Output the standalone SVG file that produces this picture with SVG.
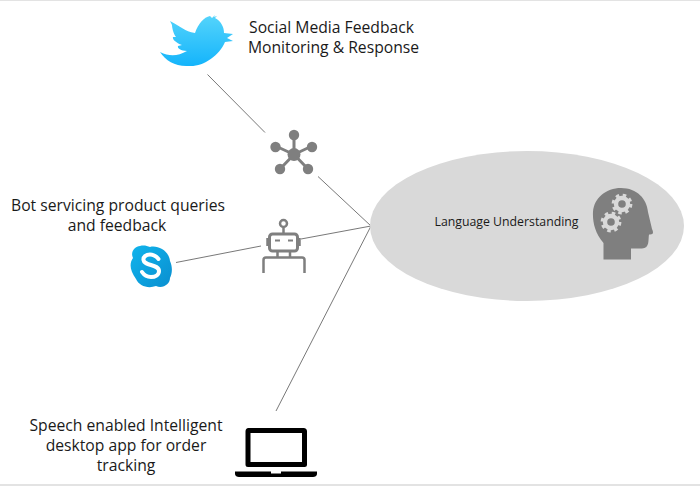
<svg xmlns="http://www.w3.org/2000/svg" width="700" height="486" viewBox="0 0 700 486">
<style>
text{font-family:"Open Sans","Noto Sans","Liberation Sans",sans-serif;font-size:15.700px;fill:#1a1a1a;text-anchor:middle}
.c{stroke:#555;stroke-width:.8;fill:none}
.g{fill:#7f7f7f}
.gs{stroke:#7f7f7f;fill:none;stroke-linecap:round}
.tooth{fill:none;stroke:#d9d9d9;stroke-width:3;stroke-dasharray:3.500 3.570}
.gear{fill:#7f7f7f;stroke:#d9d9d9;stroke-width:4.400}
</style>
<defs>
<linearGradient id="tw" x1="0" y1="0" x2="0" y2="1"><stop offset="0" stop-color="#55d4fb"/><stop offset="1" stop-color="#14b4fb"/></linearGradient>
<linearGradient id="sk" x1="0" y1="0" x2="1" y2="1"><stop offset="0" stop-color="#10b4ec"/><stop offset="1" stop-color="#0a8fd0"/></linearGradient>
</defs>
<rect width="700" height="486" fill="#fff"/>
<rect y="0" width="700" height="1" fill="#e3e3e3"/>
<rect y="484" width="700" height="2" fill="#e3e3e3"/>
<g id="connectors">
<path class="c" d="M207.500 74.500L265 132.500"/>
<path class="c" d="M318 176.500L371 226"/>
<path class="c" d="M176 262.500L261 246"/>
<path class="c" d="M301 239L371 226"/>
<path class="c" d="M276 411L371 226"/>
</g>
<g id="language-understanding">
<ellipse cx="527" cy="226" rx="157" ry="75" fill="#d9d9d9"/>
<text x="506.500" y="226" style="font-size:12.300px">Language Understanding</text>
<path class="g" d="M603.500 259.500V243C595 233 592.500 222 593 212C594 198 606 188 621 188C637 188 647 199 648 212L652 229C654 233 653 235 649 234.500C648 240 650 248 642 248.500H631V259.500Z"/>
<circle class="tooth" cx="622" cy="204" r="8.900"/><circle class="gear" cx="622" cy="204" r="6"/>
<circle class="tooth" cx="611" cy="222" r="8.900"/><circle class="gear" cx="611" cy="222" r="6"/>
</g>
<g id="twitter">
<path fill="url(#tw)" d="M170 21C182 27 184 31 195 33C198 24 204 17 210 16L212 18L215 15L214 17L217 16L215 18C221 21 224 27 224 33L233 34L227 38L233 41L225 42C219 56 203 67 189 66C176 67 166 61 160 52C170 57 178 56 187 51C181 51 177 48 178 46L182 45C176 43 172 39 173 37L176 37C173 33 172 27 172 25Z"/>
<text x="331.500" y="32.500">Social Media Feedback</text>
<text x="333.500" y="52.500">Monitoring &amp; Response</text>
</g>
<g id="hub">
<path class="gs" stroke-width="3" d="M294 154.500V134M294 154.500L275.500 146M294 154.500L312 146M294 154.500L280 169M294 154.500L308 169"/>
<circle class="g" cx="294" cy="154.500" r="6.500"/>
<circle class="g" cx="294" cy="135" r="5.200"/><circle class="g" cx="275.500" cy="147" r="5.200"/><circle class="g" cx="312" cy="147" r="5.200"/><circle class="g" cx="280" cy="169" r="5.200"/><circle class="g" cx="308" cy="169" r="5.200"/>
</g>
<g id="bot">
<text x="118" y="210.500">Bot servicing product queries</text>
<text x="117" y="230.500">and feedback</text>
<path fill="url(#sk)" d="M140 246C144 245 147 246 150 247C158 245 169 251 170 261C173 268 172 274 170 278C170 284 163 289 156 286C148 289 139 286 136 279C130 270 129 264 133 258C130 252 135 246 140 246Z"/>
<path fill="none" stroke="#fff" stroke-width="4" stroke-linecap="round" d="M158.500 259C156 256 153 254.500 150 254.500C146 254.500 143 257 143.500 260C144 266 159 264 159 271C159 275 155 277 151 277C147 277 144 275 142 272"/>
<g fill="none" stroke="#7f7f7f" stroke-width="2.500">
<circle cx="283.500" cy="223.500" r="3.500"/>
<path d="M283.500 228V233"/>
<rect x="269.500" y="234" width="28" height="17" rx="3" stroke-width="3"/>
<path d="M267.500 238v8M299.500 238v8M277.500 251v6M290 251v6"/>
<path d="M263.500 273V260Q263.500 257.500 266 257.500H302Q304.500 257.500 304.500 260V273"/>
<path d="M275 240.500h5M288 240.500h5" stroke-width="2"/>
</g>
</g>
<g id="laptop">
<text x="126" y="430.500">Speech enabled Intelligent</text>
<text x="126" y="450.500">desktop app for order</text>
<text x="126" y="470.500">tracking</text>
<path fill="none" stroke="#000" stroke-width="5" stroke-linejoin="round" d="M248.500 430.500H303.500Q304.500 430.500 304.500 431.500V464.500H248V431.500Q248 430.500 248.500 430.500Z"/>
<path d="M235 471.500H271V473.500H281V471.500H317V474C317 476 315 477 313 477H239C237 477 235 476 235 474Z"/>
</g>
</svg>
